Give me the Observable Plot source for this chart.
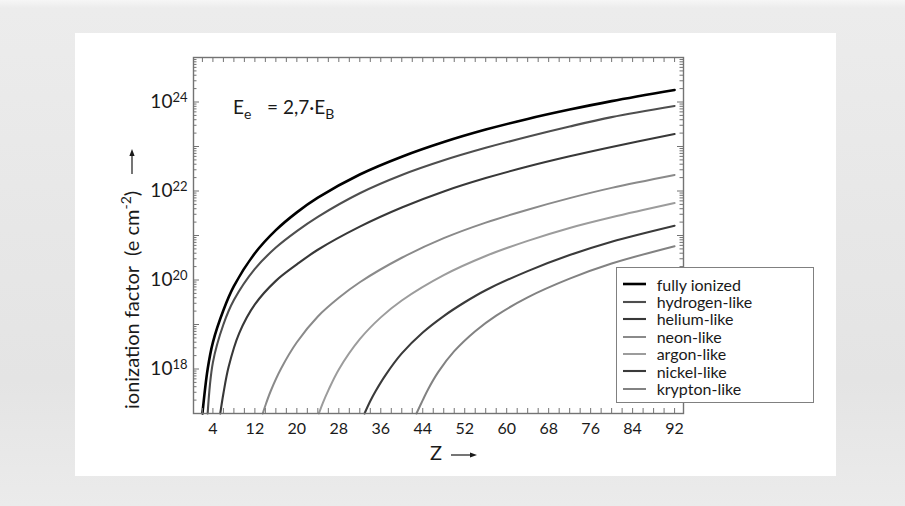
<!DOCTYPE html>
<html>
<head>
<meta charset="utf-8">
<script src="https://cdn.jsdelivr.net/npm/d3@7"></script>
<script src="https://cdn.jsdelivr.net/npm/@observablehq/plot@0.6"></script>
<style>
  html, body { margin: 0; padding: 0; }
  body {
    width: 905px; height: 506px; overflow: hidden; position: relative;
    font-family: Lato, "Open Sans", sans-serif; color: #1a1a1a;
    background: linear-gradient(180deg, #f6f6f6 0px, #ececec 8px, #e7e7e7 45%, #e4e4e4 75%, #ebebeb 100%);
  }
  #panel { position: absolute; left: 75px; top: 33px; width: 761px; height: 443px; background: #fff; }
  #chart { position: absolute; left: 75px; top: 33px; }
  #notes { position: absolute; left: 0; top: 0; pointer-events: none; }
  #legend {
    position: absolute; left: 616px; top: 267px; width: 190px; height: 126px;
    padding: 7.5px 0 0 5.7px; border: 1px solid #808080; background: #fff;
    font-size: 16px; line-height: 17.45px;
  }
  #legend .row { display: flex; align-items: center; height: 17.45px; white-space: nowrap; }
  #legend svg { margin-right: 10.7px; flex: none; }
</style>
</head>
<body>
<div id="panel"></div>
<div id="chart"></div>
<svg id="notes" width="905" height="506"></svg>
<div id="legend"></div>
<script>
// Ionization factor (e cm^-2) needed to reach each charge state, for E_e = 2.7 E_B.
// Z = atomic number; values stored as log10 of the ionization factor.
const seriesNames = ["fully ionized", "hydrogen-like", "helium-like", "neon-like", "argon-like", "nickel-like", "krypton-like"];

const fullyZ   = [2, 3, 4, 6, 8, 12, 16, 20, 24, 32, 40, 48, 56, 64, 72, 80, 92];
const fullyLog = [17.0, 18.0, 18.6, 19.32, 19.86, 20.6, 21.12, 21.52, 21.85, 22.37, 22.77, 23.10, 23.38, 23.62, 23.83, 24.02, 24.27];

const hydrogenZ   = [3, 4, 6, 8, 12, 16, 20, 24, 32, 40, 48, 56, 64, 72, 80, 92];
const hydrogenLog = [17.0, 18.15, 19.0, 19.55, 20.25, 20.73, 21.1, 21.42, 21.95, 22.36, 22.69, 22.97, 23.22, 23.45, 23.66, 23.91];

const heliumZ   = [5.4, 6, 7, 9, 12, 16, 20, 24, 32, 40, 48, 56, 64, 72, 80, 92];
const heliumLog = [17.0, 17.45, 18.05, 18.8, 19.45, 19.98, 20.35, 20.68, 21.2, 21.63, 21.99, 22.29, 22.55, 22.78, 22.99, 23.28];

const neonZ   = [13.5, 14, 15, 17, 20, 24, 28, 32, 40, 48, 56, 64, 72, 80, 92];
const neonLog = [17.0, 17.18, 17.5, 18.01, 18.6, 19.18, 19.6, 19.95, 20.5, 20.94, 21.29, 21.58, 21.84, 22.07, 22.36];

const argonZ   = [24.2, 25, 26, 28, 32, 36, 40, 48, 56, 64, 72, 80, 92];
const argonLog = [17.0, 17.25, 17.52, 17.99, 18.67, 19.16, 19.54, 20.11, 20.54, 20.88, 21.17, 21.41, 21.73];

const nickelZ   = [32.9, 34, 35, 37, 40, 44, 48, 52, 56, 64, 72, 80, 92];
const nickelLog = [17.0, 17.28, 17.5, 17.88, 18.35, 18.82, 19.19, 19.5, 19.77, 20.2, 20.56, 20.86, 21.22];

const kryptonZ   = [42.8, 44, 45, 47, 50, 54, 58, 64, 72, 80, 92];
const kryptonLog = [17.0, 17.3, 17.54, 17.94, 18.4, 18.85, 19.2, 19.61, 20.03, 20.37, 20.76];

const xTickLabels = [4, 12, 20, 28, 36, 44, 52, 60, 68, 76, 84, 92];
const yTickLabels = [1e18, 1e20, 1e22, 1e24];

// Line styles per series
const lineColors = ["#000000", "#4e4e4e", "#383838", "#8a8a8a", "#9c9c9c", "#3a3a3a", "#828282"];
const lineWidths = [2.6, 2.1, 2.1, 2, 2, 2.1, 2];

const seriesCols = [
  [fullyZ, fullyLog], [hydrogenZ, hydrogenLog], [heliumZ, heliumLog], [neonZ, neonLog],
  [argonZ, argonLog], [nickelZ, nickelLog], [kryptonZ, kryptonLog]
];
const rows = seriesNames.flatMap((name, i) =>
  seriesCols[i][0].map((z, j) => ({series: name, z, factor: 10 ** seriesCols[i][1][j]}))
);

// Tick positions for the boxed frame (inward ticks on all four sides)
const xMinor = d3.range(2, 94, 2);
const yDecades = d3.range(17, 26).map(e => 10 ** e);
const yMinor = d3.range(17, 25).flatMap(e => d3.range(2, 10).map(m => m * 10 ** e));

const W = 761, H = 443;
const mL = 118, mR = 153, mT = 24, mB = 63;
const fw = W - mL - mR, fh = H - mT - mB;
const axisGrey = "#737373";

const lineMarks = seriesNames.map((name, i) =>
  Plot.line(rows.filter(r => r.series === name), {
    x: "z", y: "factor", stroke: lineColors[i], strokeWidth: lineWidths[i], curve: "catmull-rom"
  })
);

const plot = Plot.plot({
  width: W, height: H,
  marginLeft: mL, marginRight: mR, marginTop: mT, marginBottom: mB,
  x: {domain: [0.3, 93.7]},
  y: {type: "log", domain: [1e17, 1e25]},
  style: {fontFamily: "Lato, 'Open Sans', sans-serif", background: "transparent", color: "#1a1a1a"},
  marks: [
    ...lineMarks,
    Plot.tickX(xMinor, {x: d => d, insetTop: fh - 5, stroke: axisGrey, strokeWidth: 1}),
    Plot.tickX(xMinor, {x: d => d, insetBottom: fh - 5, stroke: axisGrey, strokeWidth: 1}),
    Plot.tickY(yDecades, {y: d => d, insetRight: fw - 6, stroke: axisGrey, strokeWidth: 1}),
    Plot.tickY(yDecades, {y: d => d, insetLeft: fw - 6, stroke: axisGrey, strokeWidth: 1}),
    Plot.tickY(yMinor, {y: d => d, insetRight: fw - 3.5, stroke: axisGrey, strokeWidth: 1}),
    Plot.tickY(yMinor, {y: d => d, insetLeft: fw - 3.5, stroke: axisGrey, strokeWidth: 1}),
    Plot.frame({stroke: axisGrey, strokeWidth: 1.4}),
    Plot.axisX(xTickLabels, {tickSize: 0, tickPadding: 9, fontSize: 16, label: null, fill: "#1a1a1a"}),
    Plot.axisY(yTickLabels, {tickSize: 0, tickPadding: 6, fontSize: 19, label: null, fill: "#1a1a1a",
      tickFormat: d => String(Math.round(Math.log10(d)))})
  ]
});
document.getElementById("chart").appendChild(plot);

// Write the y tick labels as powers of ten with raised exponents
d3.select(plot).selectAll('g[aria-label="y-axis tick label"] text').each(function () {
  const exp = this.textContent;
  const t = d3.select(this).text("");
  t.append("tspan").text("10");
  t.append("tspan").attr("dy", "-0.5em").attr("font-size", 13).text(exp);
});

// Annotation and axis titles
const notes = d3.select("#notes").style("font-family", "Lato, 'Open Sans', sans-serif").attr("fill", "#1a1a1a");
const ee = notes.append("text").attr("x", 233).attr("y", 113.5).attr("font-size", 19);
ee.append("tspan").text("E");
ee.append("tspan").attr("dy", 5).attr("font-size", 14).text("e");
const eb = notes.append("text").attr("x", 267).attr("y", 113.5).attr("font-size", 19);
eb.append("tspan").text("= 2,7·E");
eb.append("tspan").attr("dy", 5).attr("font-size", 14).text("B");

const yt = notes.append("text").attr("transform", "translate(139,409) rotate(-90)").attr("font-size", 20);
yt.append("tspan").text("ionization factor");
yt.append("tspan").attr("dx", 10).text("(e cm");
yt.append("tspan").attr("dy", -8).attr("font-size", 14).text("-2");
yt.append("tspan").attr("dy", 8).text(")");

notes.append("text").attr("x", 430).attr("y", 460).attr("font-size", 20).text("Z");

function arrow(x1, y1, x2, y2) {
  const a = Math.atan2(y2 - y1, x2 - x1), L = 7, w = 2.6;
  notes.append("line").attr("x1", x1).attr("y1", y1).attr("x2", x2 - L * Math.cos(a) * 0.6).attr("y2", y2 - L * Math.sin(a) * 0.6)
    .attr("stroke", "#1a1a1a").attr("stroke-width", 1.2);
  const bx = x2 - L * Math.cos(a), by = y2 - L * Math.sin(a);
  notes.append("path")
    .attr("d", `M${x2},${y2}L${bx - w * Math.sin(a)},${by + w * Math.cos(a)}L${bx + w * Math.sin(a)},${by - w * Math.cos(a)}Z`)
    .attr("fill", "#1a1a1a");
}
arrow(451, 455, 477, 455);
arrow(132, 174, 132, 149);

// Legend
const legend = d3.select("#legend");
seriesNames.forEach((name, i) => {
  const row = legend.append("div").attr("class", "row");
  const s = row.append("svg").attr("width", 23.3).attr("height", 6);
  s.append("line").attr("x1", 0).attr("x2", 23.3).attr("y1", 3).attr("y2", 3)
    .attr("stroke", lineColors[i]).attr("stroke-width", lineWidths[i]);
  row.append("span").text(name);
});
</script>
</body>
</html>
